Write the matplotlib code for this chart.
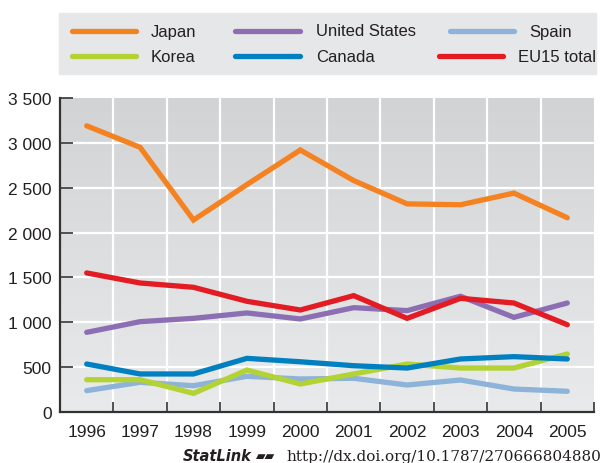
import matplotlib.pyplot as plt
import numpy as np
from matplotlib.lines import Line2D
from matplotlib.ticker import FuncFormatter, FixedLocator

plt.rcParams['font.family'] = ['Liberation Sans', 'DejaVu Sans']

years = [1996, 1997, 1998, 1999, 2000, 2001, 2002, 2003, 2004, 2005]
japan = [3190, 2950, 2140, 2535, 2920, 2580, 2320, 2310, 2440, 2165]
eu15 = [1550, 1438, 1390, 1234, 1137, 1297, 1044, 1267, 1215, 973]
united_states = [888, 1007, 1044, 1104, 1037, 1163, 1130, 1290, 1055, 1215]
canada = [535, 424, 424, 598, 560, 516, 490, 591, 617, 591]
korea = [360, 360, 208, 468, 312, 424, 535, 490, 490, 647]
spain = [238, 331, 293, 398, 368, 376, 301, 357, 256, 231]

colors = {
    'Japan': '#f58220',
    'United States': '#8c6fb3',
    'Spain': '#8db3d9',
    'Korea': '#b3d234',
    'Canada': '#0080c1',
    'EU15 total': '#e31b23',
}

fig = plt.figure(figsize=(6.05, 4.64), dpi=100)
ax = fig.add_axes([60 / 605, 51 / 464, 534 / 605, 314 / 464])

x0, x1 = years[0] - 0.5, years[-1] + 0.5
y0, y1 = 0, 3500

# gradient background
grad = np.linspace(0, 1, 256).reshape(-1, 1)
ax.imshow(grad, extent=[x0, x1, y0, y1], aspect='auto', origin='lower',
          cmap=plt.matplotlib.colors.LinearSegmentedColormap.from_list(
              'bg', ['#e9eaeb', '#d2d3d5']), zorder=0)

lw = 3.8
series = [('Spain', spain), ('Korea', korea), ('Canada', canada),
          ('United States', united_states), ('Japan', japan), ('EU15 total', eu15)]
for name, vals in series:
    ax.plot(years, vals, color=colors[name], lw=lw, solid_capstyle='round',
            solid_joinstyle='miter', zorder=3)

ax.set_xlim(x0, x1)
ax.set_ylim(y0, y1)

# grid
for v in np.arange(500, 3500, 500):
    ax.axhline(v, color='white', lw=1.6, zorder=1)
for b in np.arange(x0 + 1, x1, 1):
    ax.axvline(b, color='white', lw=1.6, zorder=1)

ax.xaxis.set_major_locator(FixedLocator(np.arange(x0 + 1, x1 + 0.01, 1)))
ax.xaxis.set_minor_locator(FixedLocator(years))
ax.xaxis.set_major_formatter(FuncFormatter(lambda v, p: ''))
ax.xaxis.set_minor_formatter(FuncFormatter(lambda v, p: str(int(round(v)))))
ax.tick_params(axis='x', which='major', direction='in', length=7.5, width=1.2,
               color='#333333')
ax.tick_params(axis='x', which='minor', length=0, pad=9, labelsize=12.5,
               labelcolor='#231f20')

ax.set_yticks(np.arange(0, 3501, 500))
ax.yaxis.set_major_formatter(FuncFormatter(
    lambda v, p: '{:,}'.format(int(v)).replace(',', ' ')))
ax.tick_params(axis='y', direction='in', length=9, width=1.2, color='#333333',
               pad=6, labelsize=12.5, labelcolor='#231f20')

for s in ['top', 'right']:
    ax.spines[s].set_visible(False)
for s in ['left', 'bottom']:
    ax.spines[s].set_color('#333333')
    ax.spines[s].set_linewidth(1.6)
    ax.spines[s].set_zorder(4)

# legend box
fig.patches.append(plt.Rectangle((59 / 605, 1 - 75 / 464), 537 / 605, 61 / 464,
                                 transform=fig.transFigure, color='#e6e7e8',
                                 zorder=0))
legend_items = [
    ('Japan', 72, 136, 151, 32),
    ('Korea', 72, 136, 151, 57),
    ('United States', 235, 300, 316, 32),
    ('Canada', 235, 300, 316, 57),
    ('Spain', 450, 514, 529, 32),
    ('EU15 total', 439, 503, 518, 57),
]
for name, lx0, lx1, tx, yy in legend_items:
    fy = 1 - yy / 464
    fig.lines.append(Line2D([lx0 / 605, lx1 / 605], [fy, fy], transform=fig.transFigure,
                            color=colors[name], lw=lw, solid_capstyle='round'))
    fig.text(tx / 605, fy, name, ha='left', va='center', fontsize=12,
             color='#231f20')

# footer
fig.text(183 / 605, 1 - 457 / 464, 'StatLink', fontsize=10.5, style='italic',
         fontweight='bold', color='#231f20', va='center', family='DejaVu Sans')
fig.text(256 / 605, 1 - 457 / 464, '\u25b0\u25b0', fontsize=9,
         color='#231f20', va='center', family='DejaVu Sans')
fig.text(286 / 605, 1 - 457 / 464, 'http://dx.doi.org/10.1787/270666804880',
         fontsize=11, color='#231f20', va='center', family='DejaVu Serif')

fig.savefig('out.png', dpi=100)
